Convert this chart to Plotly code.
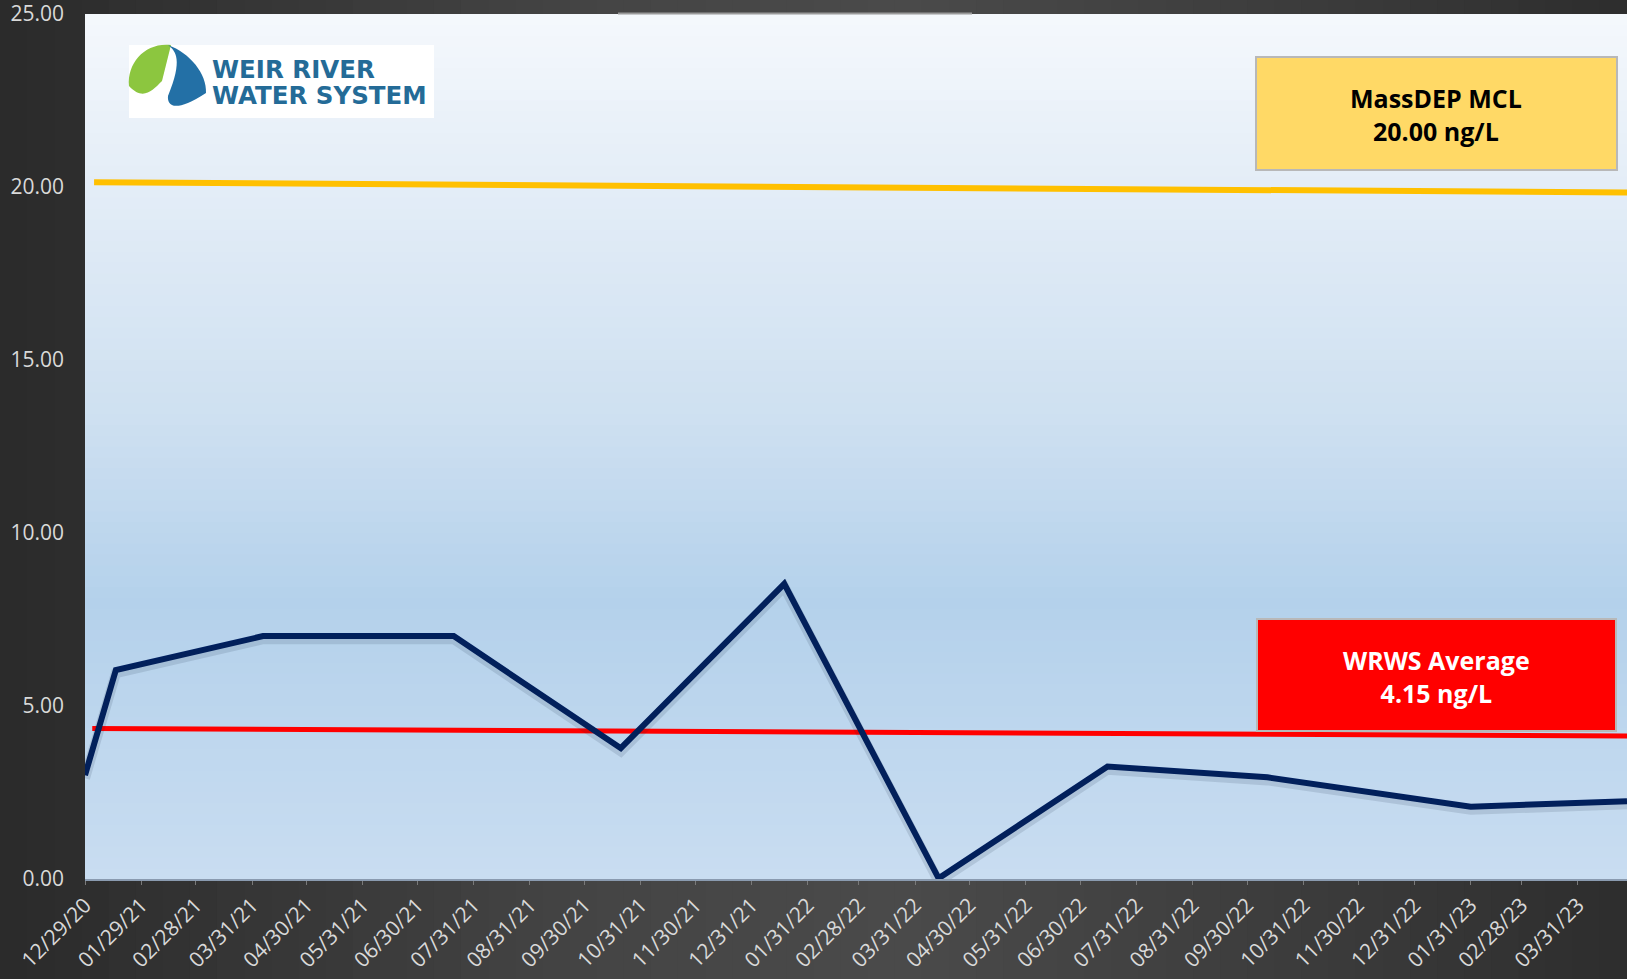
import plotly.graph_objects as go

# ---------------- data ----------------
sample_dates = ["2020-12-29", "2021-01-15", "2021-04-06", "2021-07-20", "2021-10-20",
                "2022-01-18", "2022-04-13", "2022-07-15", "2022-10-11", "2023-01-31",
                "2023-04-27"]
pfas_values = [3.00, 6.04, 7.02, 7.02, 3.78, 8.53, 0.02, 3.25, 2.94, 2.09, 2.25]

mcl_dates = ["2021-01-03", "2023-04-27"]
mcl_values = [20.14, 19.84]
avg_dates = ["2021-01-02", "2023-04-27"]
avg_values = [4.35, 4.13]

tick_dates = ["2020-12-29", "2021-01-29", "2021-02-28", "2021-03-31", "2021-04-30",
              "2021-05-31", "2021-06-30", "2021-07-31", "2021-08-31", "2021-09-30",
              "2021-10-31", "2021-11-30", "2021-12-31", "2022-01-31", "2022-02-28",
              "2022-03-31", "2022-04-30", "2022-05-31", "2022-06-30", "2022-07-31",
              "2022-08-31", "2022-09-30", "2022-10-31", "2022-11-30", "2022-12-31",
              "2023-01-31", "2023-02-28", "2023-03-31"]
y_ticks = [0, 5, 10, 15, 20, 25]
x_range = ["2020-12-29", "2023-04-27"]

mcl_label = "MassDEP MCL<br>20.00 ng/L"
avg_label = "WRWS Average<br>4.15 ng/L"
logo_lines = ["WEIR RIVER", "WATER SYSTEM"]

# ---------------- geometry helpers ----------------
W, H = 1627, 979
ML, MR, MT, MB = 85, 0, 14, 100
PW, PH = W - ML - MR, H - MT - MB


def px(x):
    return (x - ML) / PW


def py(y):
    return (H - MB - y) / PH


def hex2rgb(h):
    h = h.lstrip("#")
    return tuple(int(h[i:i + 2], 16) for i in (0, 2, 4))


def interp(stops, t):
    for (t0, c0), (t1, c1) in zip(stops[:-1], stops[1:]):
        if t0 <= t <= t1:
            f = 0 if t1 == t0 else (t - t0) / (t1 - t0)
            a, b = hex2rgb(c0), hex2rgb(c1)
            return "rgb(%d,%d,%d)" % tuple(round(a[i] + (b[i] - a[i]) * f) for i in range(3))
    return stops[-1][1]


shapes = []

# dark page background (horizontal gradient)
bg_stops = [(0, "#2a2a2a"), (0.35, "#444444"), (0.55, "#4a4a4a"), (0.8, "#3c3c3c"), (1, "#2d2d2d")]
n = 60
for i in range(n):
    x0, x1 = i * W / n, (i + 1) * W / n + 1
    shapes.append(dict(type="rect", xref="paper", yref="paper", layer="below",
                       x0=px(x0), x1=px(x1), y0=py(H), y1=py(0),
                       fillcolor=interp(bg_stops, (i + 0.5) / n), line=dict(width=0)))

# plot area background (vertical gradient)
pl_stops = [(0, "#f5f8fc"), (0.2, "#e3edf7"), (0.45, "#d0e1f1"), (0.68, "#b4d1eb"), (1, "#c9ddf1")]
n = 80
for i in range(n):
    y0, y1 = i / n, (i + 1) / n + 0.002
    shapes.append(dict(type="rect", xref="paper", yref="paper", layer="below",
                       x0=0, x1=1, y0=1 - min(y1, 1), y1=1 - y0,
                       fillcolor=interp(pl_stops, (i + 0.5) / n), line=dict(width=0)))

# thin grey line of hidden title box at top
shapes.append(dict(type="line", xref="paper", yref="paper", layer="below",
                   x0=px(618), x1=px(972), y0=py(13.5), y1=py(13.5),
                   line=dict(color="#9a9a9a", width=2)))

# logo
shapes.append(dict(type="rect", xref="paper", yref="paper", layer="above",
                   x0=px(129), x1=px(434), y0=py(118), y1=py(45),
                   fillcolor="white", line=dict(width=0)))


def path(cmds):
    out = []
    for c in cmds:
        if isinstance(c, str):
            out.append(c)
        else:
            out.append("%.5f,%.5f" % (px(c[0]), py(c[1])))
    return " ".join(out)


green = path(["M", (171, 45), "C", (146, 42), (127, 62), (129, 86), (130, 99), (135, 107), (140, 113),
              "C", (143, 101), (152, 91), (162, 81), (172, 70), (180, 58), (171, 45), "Z"])
blue = path(["M", (168, 45), "C", (190, 53), (207, 74), (206, 93), (205, 107), (195, 114), (185, 114),
             "C", (174, 114), (167, 105), (168, 96), (169, 86), (179, 79), (181, 70),
             "C", (183, 60), (176, 51), (168, 45), "Z"])
shapes.append(dict(type="path", xref="paper", yref="paper", layer="above", path=green,
                   fillcolor="#8cc63f", line=dict(width=0)))
shapes.append(dict(type="path", xref="paper", yref="paper", layer="above", path=blue,
                   fillcolor="#2370a6", line=dict(width=0)))

# label boxes
shapes.append(dict(type="rect", xref="paper", yref="paper", layer="above",
                   x0=px(1256), x1=px(1617), y0=py(170), y1=py(57),
                   fillcolor="#FFD966", line=dict(color="#b8b8b8", width=2)))
shapes.append(dict(type="rect", xref="paper", yref="paper", layer="above",
                   x0=px(1257), x1=px(1616), y0=py(731), y1=py(619),
                   fillcolor="#FF0000", line=dict(color="#b8b8b8", width=2)))

annotations = [
    dict(text=mcl_label, xref="paper", yref="paper", x=px(1436), y=py(114), showarrow=False,
         font=dict(family="Open Sans", size=25, color="black", weight="bold"),
         xanchor="center", yanchor="middle"),
    dict(text=avg_label, xref="paper", yref="paper", x=px(1436), y=py(676), showarrow=False,
         font=dict(family="Open Sans", size=25, color="white", weight="bold"),
         xanchor="center", yanchor="middle"),
    dict(text=logo_lines[0], xref="paper", yref="paper", x=px(210), y=py(70), showarrow=False,
         font=dict(family="DejaVu Sans", size=24.5, color="#246b97", weight="bold"),
         xanchor="left", yanchor="middle"),
    dict(text=logo_lines[1], xref="paper", yref="paper", x=px(210), y=py(95), showarrow=False,
         font=dict(family="DejaVu Sans", size=24.5, color="#246b97", weight="bold"),
         xanchor="left", yanchor="middle"),
]

fig = go.Figure()
# soft shadow of the data line (same data, drawn on a slightly shifted overlay axis)
fig.add_trace(go.Scatter(x=sample_dates, y=pfas_values, mode="lines", yaxis="y2",
                         line=dict(color="rgba(20,30,60,0.12)", width=10), hoverinfo="skip",
                         showlegend=False))
fig.add_trace(go.Scatter(x=mcl_dates, y=mcl_values, mode="lines",
                         line=dict(color="#FFC000", width=6), showlegend=False))
fig.add_trace(go.Scatter(x=avg_dates, y=avg_values, mode="lines",
                         line=dict(color="#FF0000", width=5), showlegend=False))
fig.add_trace(go.Scatter(x=sample_dates, y=pfas_values, mode="lines",
                         line=dict(color="#002060", width=6), showlegend=False))

tick_font = dict(family="Open Sans", size=21, color="#d9d9d9")
fig.update_layout(
    width=W, height=H,
    margin=dict(l=ML, r=MR, t=MT, b=MB, pad=0),
    paper_bgcolor="#3a3a3a", plot_bgcolor="rgba(0,0,0,0)",
    shapes=shapes, annotations=annotations, showlegend=False,
    xaxis=dict(type="date", range=x_range, tickvals=tick_dates, tickformat="%m/%d/%y",
               tickangle=-45, tickfont=tick_font, showgrid=False, zeroline=False,
               showline=True, linecolor="#8a9bb0", linewidth=1.5,
               ticks="outside", ticklen=4, tickcolor="#7a7a7a", ticklabeloverflow="allow"),
    yaxis=dict(range=[0, 25], tickvals=y_ticks, tickformat=".2f", tickfont=tick_font,
               showgrid=False, zeroline=False, showline=False, ticks="",
               ticklabelstandoff=20, ticklabeloverflow="allow"),
    yaxis2=dict(range=[0.09, 25.09], overlaying="y", visible=False),
)

fig.write_html("out.html", config={"displayModeBar": False},
               post_script="document.body.style.margin='0';document.body.style.padding='0';"
                           "document.body.style.overflow='hidden';")
